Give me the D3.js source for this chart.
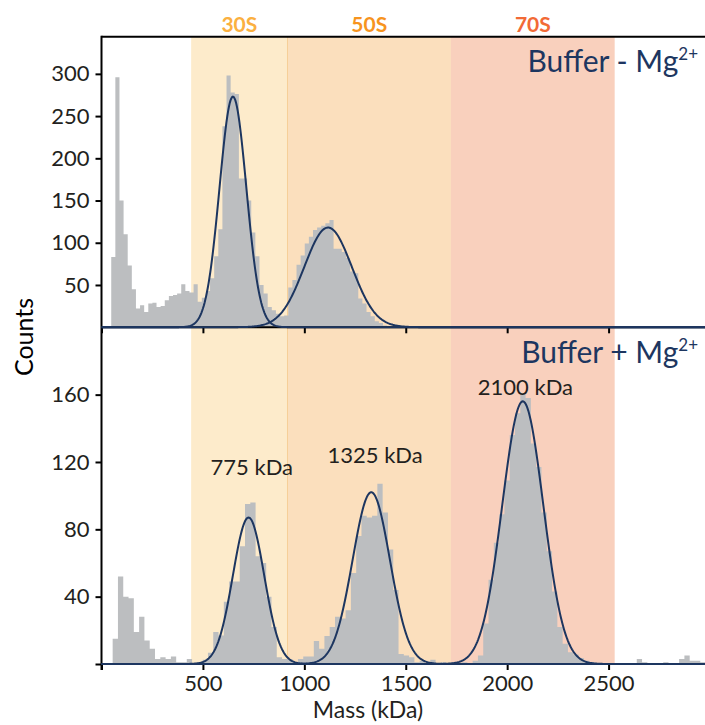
<!DOCTYPE html>
<html><head><meta charset="utf-8">
<script src="https://cdn.jsdelivr.net/npm/d3@7"></script>
<style>
html,body{margin:0;padding:0;background:#fff;}
svg{display:block;font-family:Lato,"Open Sans",sans-serif;}
</style></head>
<body><svg id="chart" width="705" height="725"></svg>
<script>
// ---------------- DATA ----------------
const bandNames = ["30S", "50S", "70S"];
const bandStart = [442, 917, 1723];
const bandEnd = [917, 1723, 2530];
const bandFill = ["#fdebcb", "#fbdfbd", "#f9d0bd"];
const bandLabelColor = ["#fbb040", "#f7941e", "#f26a36"];

const topBinStart = 48, topBinWidth = 20.3;
const topCounts = [83, 296, 150, 110, 73, 45, 22, 26, 18, 28, 29, 24, 25, 32, 37, 38, 40, 51, 43, 41, 51,
  30, 35, 43, 58, 84, 116, 238, 298, 278, 276, 176, 176, 150, 112, 84, 50, 40, 24, 20, 16, 13, 14,
  47, 56, 74, 85, 99, 107, 115, 118, 120, 123, 127, 93, 93, 89, 82, 66, 64, 34, 28, 18, 13, 7, 5, 2, 1];

const botBinStart = 55, botBinWidth = 26.1;
const botCounts = [15, 52, 40, 39, 19, 28, 14, 9, 3, 4, 3, 4.5, 1, 1, 3, 0.5, 0.5, 2.5, 6.7, 19, 17, 37, 49, 49, 70, 95, 96, 64, 60, 40, 22, 4, 3, 3, 1, 3,
  4.4, 4.4, 13.7, 9, 16.7, 22, 28, 27, 32, 54, 76, 88, 87, 88, 107, 90, 68, 44, 6, 5, 4, 1, 2, 0.5, 2.5, 0, 1, 0, 1, 0, 1, 0.5, 2,
  5, 24, 50, 72, 89, 109, 136, 149, 161, 158, 131, 117, 90, 67, 43, 22, 12, 7, 5.6, 3.6, 2, 1, 0, 0, 0, 0, 0, 0, 0, 0.5, 3, 1, 0, 0, 0, 1, 0.5, 0, 3, 5, 2, 2, 1, 0];

const topFitCenter = [648, 1117], topFitAmp = [273, 118], topFitSigma = [66, 117];
const botFitCenter = [725, 1330, 2077], botFitAmp = [87, 102, 156], botFitSigma = [77, 92, 101];

const xTicks = [500, 1000, 1500, 2000, 2500];
const topYTicks = [50, 100, 150, 200, 250, 300];
const botYTicks = [40, 80, 120, 160];

const annText = ["775 kDa", "1325 kDa", "2100 kDa"];
const annMass = [741, 1349, 2090];
const annCount = [112.5, 119.5, 160];

const topTitle = ["Buffer - Mg", "2+"];
const botTitle = ["Buffer + Mg", "2+"];

// ---------------- LAYOUT ----------------
const svg = d3.select("#chart");
const L = 101.5, R = 710;
const x = d3.scaleLinear().domain([0, 3000]).range([L, R]);
const yTop = d3.scaleLinear().domain([0, 344]).range([327.2, 36.7]);
const yBot = d3.scaleLinear().domain([0, 200]).range([664, 327.3]);
const navy = "#1d3660", gray = "#bcbec0", ink = "#231f20";

// bands
bandNames.forEach((n, i) => {
  svg.append("rect").attr("x", x(bandStart[i])).attr("y", 36.7)
    .attr("width", x(bandEnd[i]) - x(bandStart[i])).attr("height", 664 - 36.7)
    .attr("fill", bandFill[i]);
  svg.append("text").attr("x", (x(bandStart[i]) + x(bandEnd[i])) / 2).attr("y", 32)
    .attr("text-anchor", "middle").attr("font-weight", "bold").attr("font-size", 21)
    .attr("fill", bandLabelColor[i]).text(n);
});
svg.append("line").attr("x1", x(bandEnd[0])).attr("x2", x(bandEnd[0]))
  .attr("y1", 36.7).attr("y2", 664).attr("stroke", "#f6cf97").attr("stroke-width", 1);

// histograms drawn as one step-area path per panel (no seams between bins)
function hist(counts, start, width, y) {
  const pts = [];
  counts.forEach((d, i) => {
    pts.push([start + i * width, d]);
    pts.push([start + (i + 1) * width, d]);
  });
  const area = d3.area().x(p => x(p[0])).y0(y(0)).y1(p => y(p[1]));
  svg.append("path").attr("d", area(pts)).attr("fill", gray);
}
hist(topCounts, topBinStart, topBinWidth, yTop);
hist(botCounts, botBinStart, botBinWidth, yBot);

// fits
const masses = d3.range(0, 3001, 4);
function fits(centers, amps, sigmas, y) {
  centers.forEach((c, i) => {
    const line = d3.line().x(m => x(m))
      .y(m => y(amps[i] * Math.exp(-0.5 * Math.pow((m - c) / sigmas[i], 2))));
    svg.append("path").attr("d", line(masses)).attr("fill", "none")
      .attr("stroke", navy).attr("stroke-width", 2);
  });
}

// axes
function yAxis(y, ticks) {
  const g = svg.append("g").attr("transform", `translate(${L},0)`)
    .call(d3.axisLeft(y).tickValues(ticks).tickSize(6).tickPadding(6)
      .tickFormat(d => d > 0 ? d : ""));
  g.select(".domain").remove();
  g.selectAll("line").attr("stroke", "#000").attr("stroke-width", 2);
  g.selectAll("text").attr("font-family", "Lato").attr("font-size", 22).attr("fill", ink);
}
yAxis(yTop, topYTicks);
yAxis(yBot, botYTicks.concat([0]));

function xAxis(yPos, labels) {
  const g = svg.append("g").attr("transform", `translate(0,${yPos})`)
    .call(d3.axisBottom(x).tickValues([0].concat(xTicks)).tickSize(6).tickPadding(5)
      .tickFormat(d => labels && d > 0 ? d : ""));
  g.select(".domain").remove();
  g.selectAll("line").attr("stroke", "#000").attr("stroke-width", 2);
  g.selectAll("text").attr("font-family", "Lato").attr("font-size", 22).attr("fill", ink);
}
xAxis(327.3, false);
xAxis(664, true);

// frame lines
svg.append("line").attr("x1", L).attr("x2", 705).attr("y1", 36.7).attr("y2", 36.7).attr("stroke", "#000").attr("stroke-width", 2);
svg.append("line").attr("x1", L).attr("x2", 705).attr("y1", 327.3).attr("y2", 327.3).attr("stroke", "#000").attr("stroke-width", 2);
svg.append("line").attr("x1", L).attr("x2", 705).attr("y1", 664).attr("y2", 664).attr("stroke", "#000").attr("stroke-width", 2);
svg.append("line").attr("x1", L).attr("x2", L).attr("y1", 35.7).attr("y2", 670).attr("stroke", "#000").attr("stroke-width", 2);

fits(topFitCenter, topFitAmp, topFitSigma, yTop);
fits(botFitCenter, botFitAmp, botFitSigma, yBot);

// annotations
annText.forEach((t, i) => {
  svg.append("text").attr("x", x(annMass[i])).attr("y", yBot(annCount[i]))
    .attr("text-anchor", "middle").attr("font-size", 22).attr("fill", ink).text(t);
});

// titles
function title(parts, yPos) {
  const t = svg.append("text").attr("x", 698).attr("y", yPos).attr("text-anchor", "end")
    .attr("font-size", 30).attr("fill", navy);
  t.append("tspan").text(parts[0]);
  t.append("tspan").attr("font-size", 17).attr("dy", -12).text(parts[1]);
}
title(topTitle, 72);
title(botTitle, 362.5);

// axis titles
svg.append("text").attr("transform", "translate(33,337) rotate(-90)").attr("text-anchor", "middle")
  .attr("font-size", 25).attr("fill", "#000").text("Counts");
svg.append("text").attr("x", 368).attr("y", 718).attr("text-anchor", "middle")
  .attr("font-size", 23).attr("fill", ink).text("Mass (kDa)");
</script></body></html>
